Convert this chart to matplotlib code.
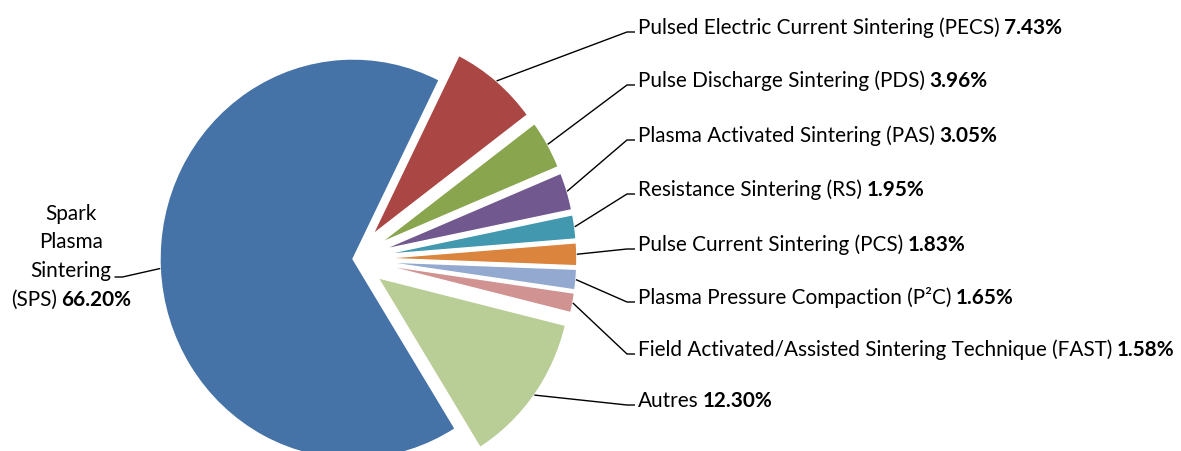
import matplotlib
matplotlib.use('Agg')
import matplotlib.pyplot as plt
import numpy as np

FONT = 'Lato'

# ---- data ----
categories = ['Pulsed Electric Current Sintering (PECS)',
              'Pulse Discharge Sintering (PDS)',
              'Plasma Activated Sintering (PAS)',
              'Resistance Sintering (RS)',
              'Pulse Current Sintering (PCS)',
              'Plasma Pressure Compaction (P\u00b2C)',
              'Field Activated/Assisted Sintering Technique (FAST)',
              'Autres',
              'Spark Plasma Sintering (SPS)']
values = [7.43, 3.96, 3.05, 1.95, 1.83, 1.65, 1.58, 12.30, 66.20]
pct_labels = ['7.43%', '3.96%', '3.05%', '1.95%', '1.83%', '1.65%', '1.58%', '12.30%', '66.20%']
sps_lines = ['Spark', 'Plasma', 'Sintering', '(SPS)']
colors = ['#AA4643', '#89A54E', '#71588F', '#4198AF', '#DB843D',
          '#93A9CF', '#D19392', '#B9CD96', '#4572A7']

# ---- layout ----
W, H = 1181, 452
fig = plt.figure(figsize=(W / 100, H / 100), dpi=100)
ax = fig.add_axes([0, 0, 1, 1])
cx, cy = 353, 260
sx, sy = 193, 200

explode = [0.16] * 8 + [0]
wedges, _ = ax.pie(values, colors=colors, startangle=63.5, counterclock=False,
                   explode=explode, radius=1,
                   wedgeprops=dict(edgecolor='white', linewidth=1.0))
ax.set_aspect('auto')
ax.set_xlim(-cx / sx, (W - cx) / sx)
ax.set_ylim(-(H - cy) / sy, cy / sy)
ax.axis('off')


def p2d(px, py):
    return (px - cx) / sx, (cy - py) / sy


renderer = fig.canvas.get_renderer()

# fit font size so the first right label spans the same width as the reference
FS0 = 15.0
t_a = ax.text(0, 0, categories[0], fontsize=FS0, family=FONT)
t_b = ax.text(0, 0, pct_labels[0], fontsize=FS0, family=FONT, fontweight='bold')
w0 = t_a.get_window_extent(renderer).width + t_b.get_window_extent(renderer).width \
    + FS0 * 100 / 72 * 0.22
t_a.remove(); t_b.remove()
FS = FS0 * 425.0 / w0
GAP = FS * 100 / 72 * 0.22

# right labels
text_x = 638
label_y = [33, 86, 141, 195, 250, 303, 355, 406]
for i in range(8):
    w = wedges[i]
    tm = np.deg2rad((w.theta1 + w.theta2) / 2)
    ex, ey = w.center[0] + w.r * np.cos(tm), w.center[1] + w.r * np.sin(tm)
    ly = label_y[i]
    p1 = p2d(text_x - 11, ly)
    p2 = p2d(text_x - 3, ly)
    ax.plot([ex, p1[0], p2[0]], [ey, p1[1], p2[1]], color='black', lw=1.0,
            solid_capstyle='butt')
    tx, ty = p2d(text_x, ly + 1)
    t = ax.text(tx, ty, categories[i], fontsize=FS, family=FONT,
                ha='left', va='baseline', color='black')
    bb = t.get_window_extent(renderer)
    bx = bb.x1 + GAP
    ax.text((bx - cx) / sx, ty, pct_labels[i], fontsize=FS, family=FONT,
            fontweight='bold', ha='left', va='baseline', color='black')

# SPS label (left, multi-line, centered)
sps_cx = 71
sps_base = [220, 248.5, 277, 305.5]
sint_text = None
for j in range(3):
    tx, ty = p2d(sps_cx, sps_base[j])
    tt = ax.text(tx, ty, sps_lines[j], fontsize=FS, family=FONT, ha='center',
                 va='baseline', color='black')
    if j == 2:
        sint_text = tt
tn = ax.text(0, 0, sps_lines[3], fontsize=FS, family=FONT, ha='left', va='baseline')
tb = ax.text(0, 0, pct_labels[8], fontsize=FS, family=FONT, fontweight='bold',
             ha='left', va='baseline')
wn = tn.get_window_extent(renderer).width
wb = tb.get_window_extent(renderer).width
total = wn + GAP + wb
x0 = sps_cx - total / 2
ty = p2d(0, sps_base[3])[1]
tn.set_position(((x0 - cx) / sx, ty))
tb.set_position(((x0 + wn + GAP - cx) / sx, ty))

# SPS leader
sb = sint_text.get_window_extent(renderer)
w = wedges[8]
tm = np.deg2rad((w.theta1 + w.theta2) / 2)
ex, ey = w.center[0] + w.r * np.cos(tm), w.center[1] + w.r * np.sin(tm)
a = p2d(sb.x1 + 3, 278)
b = p2d(sb.x1 + 11, 278)
ax.plot([a[0], b[0], ex], [a[1], b[1], ey], color='black', lw=1.0,
        solid_capstyle='butt')

fig.savefig('out.png', dpi=100, facecolor='white')
